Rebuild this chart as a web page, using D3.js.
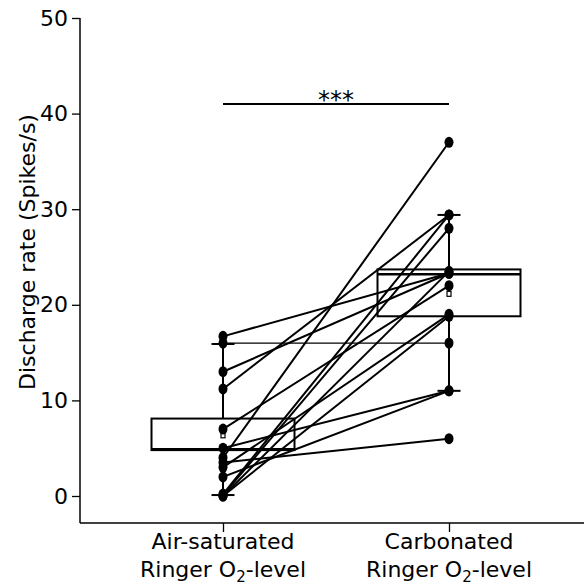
<!DOCTYPE html>
<html><head><meta charset="utf-8">
<script src="https://cdn.jsdelivr.net/npm/d3@7"></script>
<style>body{margin:0;background:#fff}svg{display:block}text{font-family:"DejaVu Sans",Verdana,sans-serif;fill:#000}</style>
</head><body><svg id="c" width="584" height="588"></svg>
<script>
const categories = ["Air-saturated|Ringer O₂-level", "Carbonated|Ringer O₂-level"];
const airValues =        [16.7, 16.0, 13.0, 11.2, 7.0, 5.0, 4.0, 3.0, 2.0, 0.2, 0.1, 0.0, 0.0, 3.5];
const carbonatedValues = [23.3, 16.0, 23.3, 29.4, 22.0, 11.0, 37.0, 19.0, 11.0, 29.4, 28.0, 23.5, 18.8, 6.0];
// box stats: [whiskerLow, q1, median, q3, whiskerHigh, mean]
const airBox = [0.1, 4.8, 4.9, 8.1, 15.9, 6.4];
const carbonatedBox = [11.0, 18.8, 23.2, 23.7, 29.4, 21.2];
const yTicks = [0, 10, 20, 30, 40, 50];
const sigLabel = "***";
const yLabel = "Discharge rate (Spikes/s)";

const svg = d3.select("#c");
const y = d3.scaleLinear().domain([0, 50]).range([496, 18]);
const x = d3.scalePoint().domain(categories).range([223, 449]);

// y axis
const yAxis = svg.append("g").attr("transform", "translate(80,0)")
  .call(d3.axisLeft(y).tickValues(yTicks).tickSize(8).tickPadding(4));
yAxis.select(".domain").attr("d", "M0,18V523").attr("stroke-width", 1.5);
yAxis.selectAll(".tick line").attr("stroke-width", 1.3);
yAxis.selectAll("text").attr("font-size", 22).attr("fill", "#000");

// x axis
const xAxis = svg.append("g").attr("transform", "translate(0,523)")
  .call(d3.axisBottom(x).tickSize(9).tickFormat(""));
xAxis.select(".domain").attr("d", "M80,0H584").attr("stroke-width", 1.5);
xAxis.selectAll(".tick line").attr("stroke-width", 1.3);
categories.forEach(c => {
  const [l1, l2] = c.split("|");
  svg.append("text").attr("text-anchor", "middle").attr("font-size", 22)
    .attr("x", x(c)).attr("y", 549).text(l1);
  const t2 = svg.append("text").attr("text-anchor", "middle").attr("font-size", 22).attr("x", x(c)).attr("y", 577);
  const parts = l2.split("₂");
  t2.append("tspan").text(parts[0]);
  t2.append("tspan").attr("font-size", 15).attr("dy", 5).text("2");
  t2.append("tspan").attr("dy", -5).text(parts[1]);
});

// y label
svg.append("text").attr("transform", "translate(35,252) rotate(-90)")
  .attr("text-anchor", "middle").attr("font-size", 22).text(yLabel);

// boxes
const boxW = 143, capW = 23;
[[categories[0], airBox], [categories[1], carbonatedBox]].forEach(([c, b]) => {
  const cx = x(c);
  const g = svg.append("g").attr("fill", "none").attr("stroke", "#000");
  g.append("line").attr("x1", cx).attr("x2", cx).attr("y1", y(b[4])).attr("y2", y(b[0])).attr("stroke-width", 2);
  g.append("line").attr("x1", cx - capW / 2).attr("x2", cx + capW / 2).attr("y1", y(b[4])).attr("y2", y(b[4])).attr("stroke-width", 2);
  g.append("line").attr("x1", cx - capW / 2).attr("x2", cx + capW / 2).attr("y1", y(b[0])).attr("y2", y(b[0])).attr("stroke-width", 2);
  g.append("rect").attr("x", cx - boxW / 2).attr("width", boxW).attr("y", y(b[3])).attr("height", y(b[1]) - y(b[3]))
    .attr("fill", "#fff").attr("stroke-width", 2);
  g.append("line").attr("x1", cx - boxW / 2).attr("x2", cx + boxW / 2).attr("y1", y(b[2])).attr("y2", y(b[2])).attr("stroke-width", 2.5);
  g.append("rect").attr("x", cx - 2).attr("width", 4).attr("y", y(b[5]) - 2).attr("height", 5).attr("stroke-width", 1.2);
});

// paired lines
const pairs = airValues.map((v, i) => [v, carbonatedValues[i]]);
svg.append("g").selectAll("line").data(pairs).join("line")
  .attr("x1", x(categories[0])).attr("y1", d => y(d[0]))
  .attr("x2", x(categories[1])).attr("y2", d => y(d[1]))
  .attr("stroke", "#000").attr("stroke-width", (d) => d[0] === d[1] ? 1.3 : 2);

// points
svg.append("g").selectAll("ellipse").data(airValues).join("ellipse")
  .attr("cx", x(categories[0])).attr("cy", d => y(d)).attr("rx", 4.5).attr("ry", 5.5).attr("fill", "#000");
svg.append("g").selectAll("ellipse").data(carbonatedValues).join("ellipse")
  .attr("cx", x(categories[1])).attr("cy", d => y(d)).attr("rx", 4.5).attr("ry", 5.5).attr("fill", "#000");

// significance
svg.append("line").attr("x1", x(categories[0])).attr("x2", x(categories[1])).attr("y1", 104).attr("y2", 104)
  .attr("stroke", "#000").attr("stroke-width", 2);
svg.append("text").attr("x", (x(categories[0]) + x(categories[1])) / 2).attr("y", 108)
  .attr("text-anchor", "middle").attr("font-size", 24).text(sigLabel);
</script></body></html>
